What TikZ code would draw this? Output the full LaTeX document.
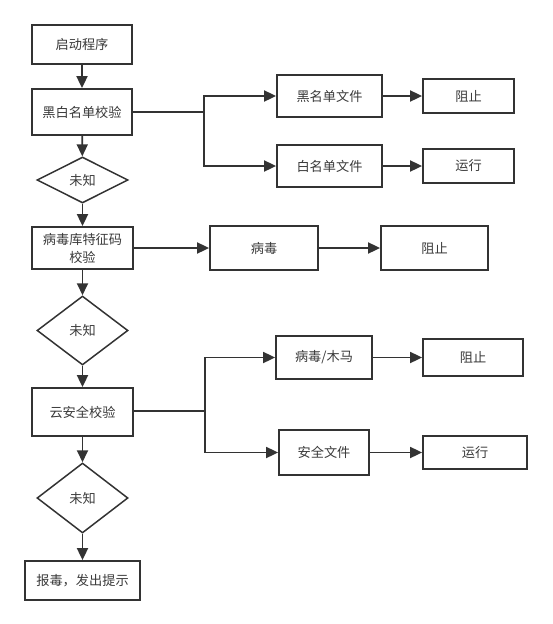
\documentclass[tikz,border=0pt]{standalone}
\usepackage{fontspec}
\setmainfont{Noto Sans CJK SC}
\usetikzlibrary{arrows.meta, positioning, shapes.geometric}
\definecolor{linegray}{HTML}{333333}
\definecolor{textgray}{HTML}{3A3A3A}

\begin{document}
\begin{tikzpicture}[
    x=1pt, y=-1pt,
    box/.style={draw=linegray, line width=1.8pt, fill=white, inner sep=0pt,
                align=center, text=textgray,
                font=\fontsize{13.2}{18}\selectfont},
    dec/.style={draw=linegray, line width=1.5pt, diamond, inner sep=0pt,
                minimum width=91pt, text=textgray,
                font=\fontsize{13.2}{18}\selectfont},
    arr/.style={-{Triangle[length=12pt, width=11pt]}, line width=1.8pt,
                draw=linegray},
]
\useasboundingbox (0,0) rectangle (552,624);

% main column
\node[box, minimum width=100pt, minimum height=39pt] (start) at (82,44.5) {启动程序};
\node[box, minimum width=100pt, minimum height=46pt] (bw) at (82,112) {黑白名单校验};
\node[dec, minimum height=46pt] (u1) at (82.5,180) {未知};
\node[box, minimum width=101pt, minimum height=42pt] (sig) at (82.5,248) {病毒库特征码\\校验};
\node[dec, minimum height=69pt] (u2) at (82.5,330.5) {未知};
\node[box, minimum width=101pt, minimum height=48pt] (cloud) at (82.5,412) {云安全校验};
\node[dec, minimum height=70pt] (u3) at (82.5,498) {未知};
\node[box, minimum width=115pt, minimum height=39pt] (report) at (82.5,580.5) {报毒，发出提示};

% black / white list
\node[box, minimum width=105pt, minimum height=42pt] (blk) at (329.5,96) {黑名单文件};
\node[box, minimum width=91pt, minimum height=34pt] (stop1) at (468.5,96) {阻止};
\node[box, minimum width=105pt, minimum height=42pt] (wht) at (329.5,166) {白名单文件};
\node[box, minimum width=91pt, minimum height=34pt] (run1) at (468.5,166) {运行};

% signature
\node[box, minimum width=108pt, minimum height=44pt] (virus) at (264,248) {病毒};
\node[box, minimum width=107pt, minimum height=44pt] (stop2) at (434.5,248) {阻止};

% cloud
\node[box, minimum width=96pt, minimum height=43pt] (trojan) at (324,357.5) {病毒/木马};
\node[box, minimum width=100pt, minimum height=37pt] (stop3) at (473,357.5) {阻止};
\node[box, minimum width=90pt, minimum height=45pt] (safe) at (324,452.5) {安全文件};
\node[box, minimum width=104pt, minimum height=33pt] (run3) at (475,452.5) {运行};

\coordinate (fork1) at (204,112);
\coordinate (fork2) at (205,411);

\draw[arr] (start) -- (bw);
\draw[arr] (bw) -- (u1);
\draw[arr] (u1) -- (sig);
\draw[arr] (sig) -- (u2);
\draw[arr] (u2) -- (cloud);
\draw[arr] (cloud) -- (u3);
\draw[arr] (u3) -- (report);

\draw[line width=1.8pt, draw=linegray] (bw.east |- fork1) -- (fork1);
\draw[arr] (fork1) |- (blk.west);
\draw[arr] (fork1) |- (wht.west);
\draw[arr] (blk) -- (stop1);
\draw[arr] (wht) -- (run1);

\draw[arr] (sig) -- (virus);
\draw[arr] (virus) -- (stop2);

\draw[line width=1.8pt, draw=linegray] (cloud.east |- fork2) -- (fork2);
\draw[arr] (fork2) |- (trojan.west);
\draw[arr] (fork2) |- (safe.west);
\draw[arr] (trojan) -- (stop3);
\draw[arr] (safe) -- (run3);

\end{tikzpicture}
\end{document}
